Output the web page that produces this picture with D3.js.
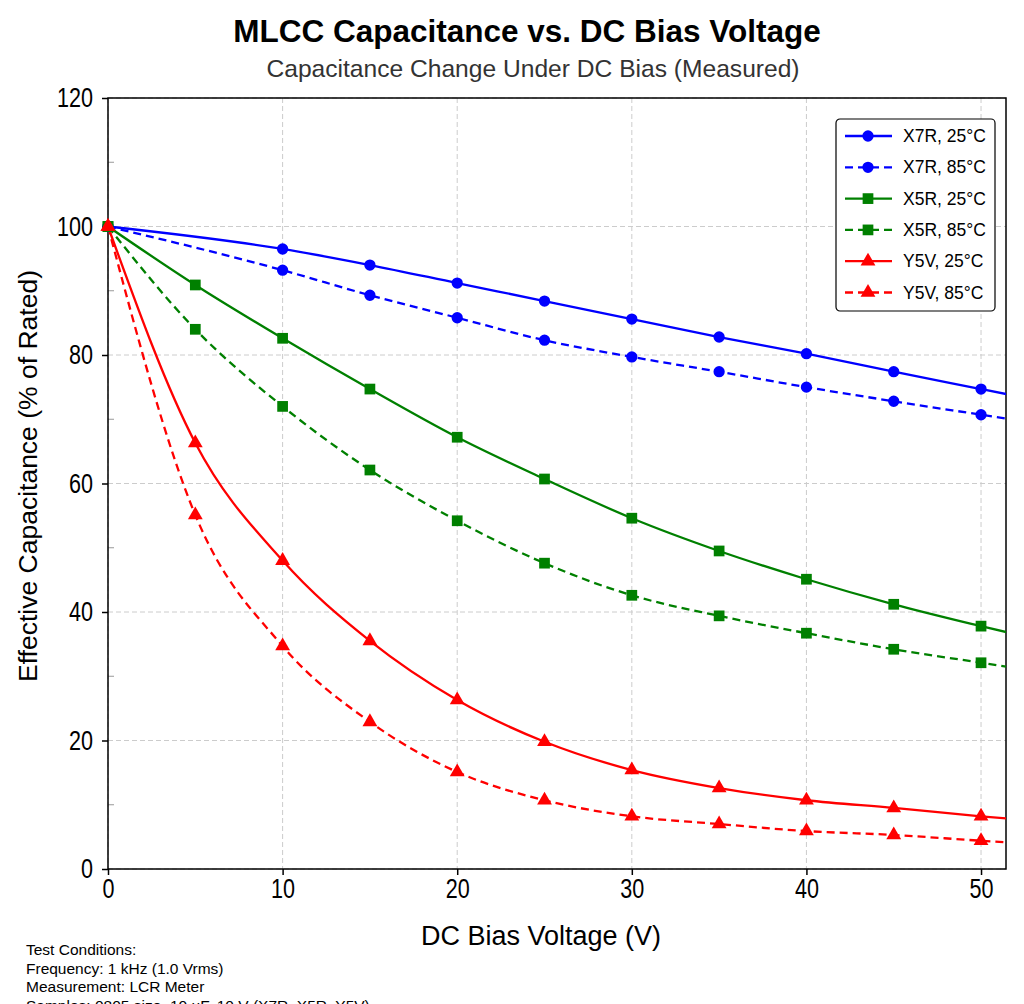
<!DOCTYPE html>
<html>
<head>
<meta charset="utf-8">
<script src="https://cdn.jsdelivr.net/npm/d3@7"></script>
<style>
  body { margin: 0; background: #fff; }
  svg { display: block; font-family: "Liberation Sans", Arial, sans-serif; }
</style>
</head>
<body>
<svg id="chart" width="1024" height="1004"></svg>
<script>
// values, % of rated capacitance
const voltsX7R = [0, 10, 15, 20, 25, 30, 35, 40, 45, 50, 55];
const x7r25 = [100, 96.5, 94.0, 91.2, 88.4, 85.6, 82.8, 80.2, 77.4, 74.7, 72.0];
const x7r85 = [100, 93.2, 89.3, 85.8, 82.3, 79.7, 77.4, 75.0, 72.8, 70.7, 68.6];
const volts = [0, 5, 10, 15, 20, 25, 30, 35, 40, 45, 50, 55];
const x5r25 = [100, 90.9, 82.6, 74.7, 67.2, 60.7, 54.6, 49.5, 45.1, 41.2, 37.8, 34.6];
const x5r85 = [100, 84.0, 72.0, 62.1, 54.2, 47.6, 42.6, 39.4, 36.7, 34.2, 32.1, 30.0];
const y5v25 = [100, 66.3, 48.0, 35.5, 26.3, 19.8, 15.4, 12.6, 10.7, 9.5, 8.2, 7.1];
const y5v85 = [100, 55.1, 34.7, 22.9, 15.1, 10.7, 8.2, 7.0, 5.9, 5.3, 4.4, 3.6];

const xTicks = [0, 10, 20, 30, 40, 50];
const yTicks = [0, 20, 40, 60, 80, 100, 120];
const yMinor = [10, 30, 50, 70, 90, 110];
const notes = [
  "Test Conditions:",
  "Frequency: 1 kHz (1.0 Vrms)",
  "Measurement: LCR Meter",
  "Samples: 0805 size, 10 \u00b5F, 10 V (X7R, X5R, Y5V)"
];

const series = [
  { name: "X7R, 25\u00b0C", v: voltsX7R, y: x7r25, color: "#0000ff", dash: null, mark: "circle" },
  { name: "X7R, 85\u00b0C", v: voltsX7R, y: x7r85, color: "#0000ff", dash: "8,5", mark: "circle" },
  { name: "X5R, 25\u00b0C", v: volts, y: x5r25, color: "#008000", dash: null, mark: "square" },
  { name: "X5R, 85\u00b0C", v: volts, y: x5r85, color: "#008000", dash: "8,5", mark: "square" },
  { name: "Y5V, 25\u00b0C", v: volts, y: y5v25, color: "#ff0000", dash: null, mark: "triangle" },
  { name: "Y5V, 85\u00b0C", v: volts, y: y5v85, color: "#ff0000", dash: "8,5", mark: "triangle" }
];

const svg = d3.select("#chart");
const plotL = 108, plotR = 1006, plotT = 98, plotB = 869;

const xScale = d3.scaleLinear().domain([0, 51.43]).range([plotL, plotR]);
const yScale = d3.scaleLinear().domain([0, 120]).range([plotB, plotT]);

svg.append("defs").append("clipPath").attr("id", "plotClip")
  .append("rect").attr("x", plotL).attr("y", plotT)
  .attr("width", plotR - plotL).attr("height", plotB - plotT);

// grid
const grid = svg.append("g");
grid.selectAll(".gx").data(xTicks).enter().append("line")
  .attr("x1", (d) => xScale(d)).attr("x2", (d) => xScale(d))
  .attr("y1", plotT).attr("y2", plotB)
  .style("stroke", "#cccccc").style("stroke-dasharray", "5,3").style("stroke-width", 1);
grid.selectAll(".gy").data(yTicks).enter().append("line")
  .attr("x1", plotL).attr("x2", plotR)
  .attr("y1", (d) => yScale(d)).attr("y2", (d) => yScale(d))
  .style("stroke", "#cccccc").style("stroke-dasharray", "5,3").style("stroke-width", 1);

// minor y ticks, inside
svg.append("g").selectAll("line").data(yMinor).enter().append("line")
  .attr("x1", plotL).attr("x2", plotL + 6)
  .attr("y1", (d) => yScale(d)).attr("y2", (d) => yScale(d))
  .style("stroke", "#999").style("stroke-width", 1);

// axes
const xAxis = svg.append("g").attr("transform", `translate(0,${plotB})`)
  .call(d3.axisBottom(xScale).tickValues(xTicks).tickSize(6).tickPadding(4));
const yAxis = svg.append("g").attr("transform", `translate(${plotL},0)`)
  .call(d3.axisLeft(yScale).tickValues(yTicks).tickSize(6).tickPadding(9));
[xAxis, yAxis].forEach((ax) => {
  ax.select(".domain").remove();
  ax.selectAll(".tick line").style("stroke", "#000").style("stroke-width", 1.5);
  ax.selectAll(".tick text")
    .style("font-family", "'Liberation Sans', sans-serif")
    .style("font-size", "27px").style("fill", "#000")
    .attr("textLength", (d) => String(d).length * 12)
    .attr("lengthAdjust", "spacingAndGlyphs");
});

svg.append("rect").attr("x", plotL).attr("y", plotT)
  .attr("width", plotR - plotL).attr("height", plotB - plotT)
  .style("fill", "none").style("stroke", "#000").style("stroke-width", 1.5);

// lines
const lineGen = (s) => d3.line()
  .x((d, i) => xScale(s.v[i]))
  .y((d) => yScale(d))
  .curve(d3.curveMonotoneX);

const markerPath = (type, size) => {
  if (type === "circle") return d3.symbol(d3.symbolCircle, size)();
  if (type === "square") return d3.symbol(d3.symbolSquare, size)();
  return d3.symbol(d3.symbolTriangle, size)();
};
const markSize = { circle: 100, square: 115, triangle: 95 };

const lineLayer = svg.append("g").attr("clip-path", "url(#plotClip)");
const markLayer = svg.append("g");

series.forEach((s) => {
  lineLayer.append("path")
    .attr("d", lineGen(s)(s.y))
    .style("fill", "none")
    .style("stroke", s.color)
    .style("stroke-width", 2.3)
    .style("stroke-dasharray", s.dash);
});
series.forEach((s) => {
  const pts = s.y.map((d, i) => [s.v[i], d]).filter((p) => p[0] <= 50);
  markLayer.selectAll(null).data(pts).enter().append("path")
    .attr("d", markerPath(s.mark, markSize[s.mark]))
    .attr("transform", (p) => `translate(${xScale(p[0])},${yScale(p[1])})`)
    .style("fill", s.color);
});

// legend
const legend = svg.append("g").attr("transform", "translate(836,119)");
legend.append("rect").attr("width", 159).attr("height", 192).attr("rx", 4)
  .style("fill", "#fff").style("stroke", "#000").style("stroke-width", 1.2);
series.forEach((s, i) => {
  const row = legend.append("g").attr("transform", `translate(0,${17 + i * 31.3})`);
  row.append("line").attr("x1", 9).attr("x2", 56)
    .style("stroke", s.color).style("stroke-width", 2.3).style("stroke-dasharray", s.dash);
  row.append("path").attr("d", markerPath(s.mark, markSize[s.mark]))
    .attr("transform", "translate(32,0)").style("fill", s.color);
  row.append("text").attr("x", 67).attr("y", 6).text(s.name)
    .style("font-size", "17.5px").style("fill", "#000");
});

// titles
svg.append("text").attr("x", 527).attr("y", 42).attr("text-anchor", "middle")
  .style("font-size", "31.5px").style("font-weight", "bold").text("MLCC Capacitance vs. DC Bias Voltage");
svg.append("text").attr("x", 533).attr("y", 77).attr("text-anchor", "middle")
  .style("font-size", "24.6px").style("fill", "#333").text("Capacitance Change Under DC Bias (Measured)");
svg.append("text").attr("x", 541).attr("y", 945).attr("text-anchor", "middle")
  .style("font-size", "27px").text("DC Bias Voltage (V)");
svg.append("text").attr("transform", "translate(37,476) rotate(-90)").attr("text-anchor", "middle")
  .style("font-size", "26.5px").text("Effective Capacitance (% of Rated)");

// notes (last line is cut by the bottom edge, as in the source)
svg.append("g").selectAll("text").data(notes).enter().append("text")
  .attr("x", 26).attr("y", (d, i) => 955 + i * 18.6)
  .style("font-size", "15.5px").text((d) => d);
</script>
</body>
</html>
